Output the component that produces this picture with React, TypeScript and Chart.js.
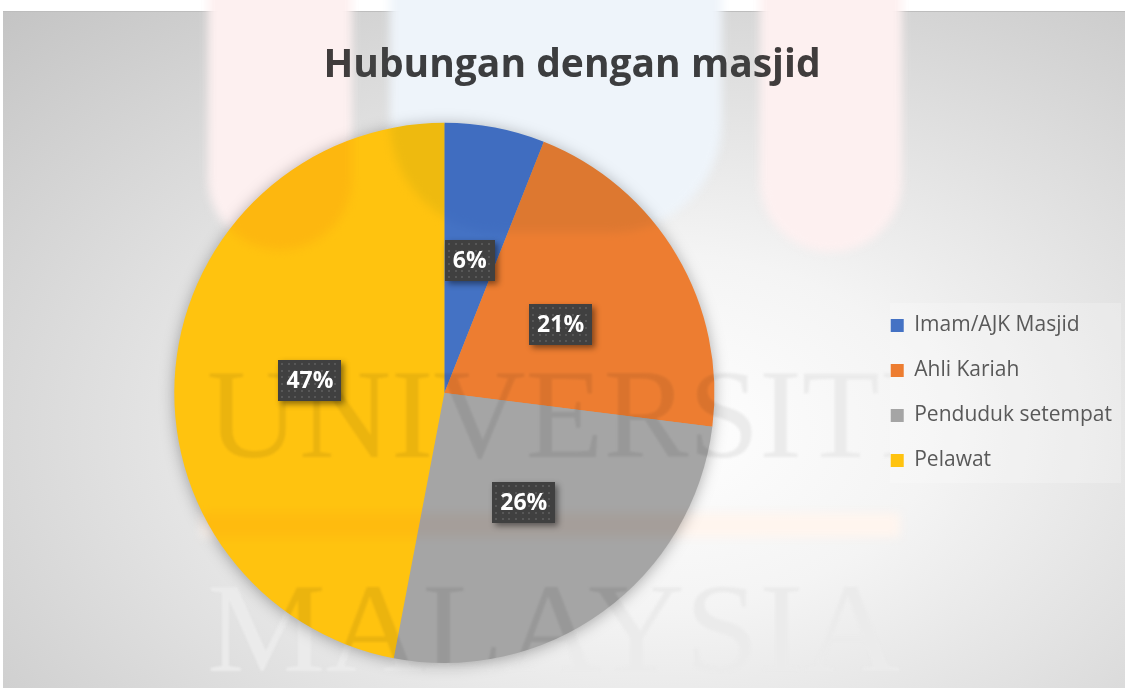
import React, { useEffect, useRef } from "react";
import { Chart, registerables } from "chart.js";

Chart.register(...registerables);

const chartTitle = "Hubungan dengan masjid";
const categories = ["Imam/AJK Masjid", "Ahli Kariah", "Penduduk setempat", "Pelawat"];
const percentages = [6, 21, 26, 47];
const sliceColors = ["#4472C4", "#ED7D31", "#A5A5A5", "#FFC30F"];
const watermarkLines = ["UNIVERSITI", "MALAYSIA"];

const W = 1125;
const H = 688;

const legendRect = { x1: 890, y1: 303, x2: 1121, y2: 483 };

const legendBgPlugin = {
  id: "legendBg",
  beforeDraw(chart: any) {
    const ctx: CanvasRenderingContext2D = chart.ctx;
    ctx.save();
    ctx.fillStyle = "rgba(255,255,255,0.22)";
    ctx.fillRect(legendRect.x1, legendRect.y1, legendRect.x2 - legendRect.x1, legendRect.y2 - legendRect.y1);
    ctx.restore();
  },
};

const pieShadowPlugin = {
  id: "pieShadow",
  beforeDatasetsDraw(chart: any) {
    const meta = chart.getDatasetMeta(0);
    const arc = meta.data[0];
    if (!arc) return;
    const { x, y, outerRadius } = arc.getProps(["x", "y", "outerRadius"], true);
    const ctx = chart.ctx;
    ctx.save();
    ctx.shadowColor = "rgba(0,0,0,0.35)";
    ctx.shadowBlur = 16;
    ctx.shadowOffsetY = 2;
    ctx.fillStyle = "#a5a5a5";
    ctx.beginPath();
    ctx.arc(x, y, outerRadius - 1, 0, Math.PI * 2);
    ctx.fill();
    ctx.restore();
  },
};

function drawWatermark(ctx: CanvasRenderingContext2D) {
  ctx.save();
  ctx.globalCompositeOperation = "multiply";
  ctx.filter = "blur(5px)";
  ctx.fillStyle = "rgb(253,240,240)";
  ctx.beginPath();
  (ctx as any).roundRect(208, -80, 144, 330, [0, 0, 72, 72]);
  ctx.fill();
  ctx.fillStyle = "rgb(238,244,250)";
  ctx.beginPath();
  (ctx as any).roundRect(390, -80, 332, 312, [0, 0, 110, 110]);
  ctx.fill();
  ctx.fillStyle = "rgb(253,240,240)";
  ctx.beginPath();
  (ctx as any).roundRect(760, -80, 142, 332, [0, 0, 71, 71]);
  ctx.fill();
  ctx.fillStyle = "rgb(255,245,238)";
  ctx.fillRect(201, 513, 699, 24);
  ctx.filter = "blur(1px)";
  ctx.beginPath();
  ctx.rect(0, 0, W, H);
  ctx.rect(legendRect.x1, legendRect.y1, legendRect.x2 - legendRect.x1, legendRect.y2 - legendRect.y1);
  ctx.clip("evenodd");
  ctx.fillStyle = "rgb(235,235,235)";
  ctx.font = '128px "Liberation Serif"';
  ctx.textBaseline = "alphabetic";
  ctx.textAlign = "left";
  const specs = [
    { x: 207, y: 457, w: 715 },
    { x: 207, y: 671, w: 693 },
  ];
  watermarkLines.forEach((t, i) => {
    const s = specs[i];
    const mw = ctx.measureText(t).width;
    ctx.save();
    ctx.translate(s.x, s.y);
    ctx.scale(s.w / mw, 1);
    ctx.fillText(t, 0, 0);
    ctx.restore();
  });
  ctx.restore();
}

const labelPlugin = {
  id: "sliceLabels",
  afterDatasetsDraw(chart: any) {
    const ctx: CanvasRenderingContext2D = chart.ctx;
    drawWatermark(ctx);
    const meta = chart.getDatasetMeta(0);
    ctx.save();
    ctx.font = 'bold 23px "Open Sans"';
    meta.data.forEach((arc: any, i: number) => {
      const p = arc.tooltipPosition(true);
      const text = percentages[i] + "%";
      const tw = ctx.measureText(text).width;
      const w = Math.round(tw + 16);
      const h = 41;
      const x = Math.round(p.x - w / 2);
      const y = Math.round(p.y - h / 2);
      ctx.save();
      ctx.shadowColor = "rgba(0,0,0,0.45)";
      ctx.shadowBlur = 6;
      ctx.shadowOffsetX = 3;
      ctx.shadowOffsetY = 3;
      ctx.fillStyle = "#404040";
      ctx.fillRect(x, y, w, h);
      ctx.restore();
      ctx.fillStyle = "rgba(255,255,255,0.12)";
      for (let dy = 3; dy < h - 1; dy += 6.67) {
        for (let dx = 3; dx < w - 1; dx += 6.67) {
          ctx.fillRect(Math.round(x + dx), Math.round(y + dy), 2, 2);
        }
      }
      ctx.fillStyle = "#ffffff";
      ctx.textAlign = "center";
      ctx.textBaseline = "middle";
      ctx.fillText(text, p.x, p.y + 1);
    });
    ctx.restore();
  },
};

export default function App() {
  const canvasRef = useRef<HTMLCanvasElement | null>(null);

  useEffect(() => {
    if (!canvasRef.current) return;
    const chart = new Chart(canvasRef.current, {
      type: "pie",
      data: {
        labels: categories,
        datasets: [
          {
            data: percentages,
            backgroundColor: sliceColors,
            borderWidth: 0,
          },
        ],
      },
      options: {
        responsive: false,
        animation: false,
        devicePixelRatio: 1,
        layout: { padding: { left: 22, right: 3, top: 0, bottom: 25 } },
        plugins: {
          title: {
            display: true,
            text: chartTitle,
            color: "#404040",
            font: { family: '"Open Sans"', size: 39, weight: "bold" },
            padding: { top: 42, bottom: 34 },
          },
          legend: {
            display: true,
            position: "right",
            align: "center",
            fullSize: false,
            labels: {
              boxWidth: 13,
              boxHeight: 13,
              padding: 24,
              color: "#595959",
              font: { family: '"Open Sans"', size: 21 },
            },
          },
          tooltip: { enabled: false },
        },
      } as any,
      plugins: [legendBgPlugin, pieShadowPlugin, labelPlugin],
    });
    return () => chart.destroy();
  }, []);

  return (
    <div
      style={{
        position: "absolute",
        left: 0,
        top: 0,
        width: W,
        height: H,
        background: "#ffffff",
        overflow: "hidden",
      }}
    >
      <div
        style={{
          position: "absolute",
          left: 3,
          top: 11,
          width: W,
          height: H - 11,
          borderTop: "1px solid #bdbdbd",
          boxSizing: "border-box",
          background:
            "radial-gradient(farthest-corner at 58% 62%, #ffffff 0%, #f4f4f4 30%, #dcdcdc 65%, #c4c4c4 100%)",
        }}
      />
      <canvas
        ref={canvasRef}
        width={W}
        height={H}
        style={{ position: "absolute", left: 0, top: 0, width: W, height: H, display: "block" }}
      />
    </div>
  );
}
